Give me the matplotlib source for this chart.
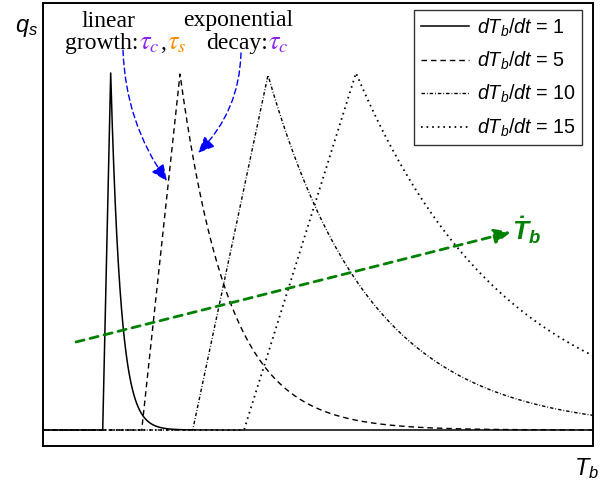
import numpy as np
import matplotlib
matplotlib.use("Agg")
import matplotlib.pyplot as plt
from matplotlib.offsetbox import TextArea, HPacker, AnnotationBbox

plt.rcParams["font.family"] = ["Liberation Sans", "DejaVu Sans"]
plt.rcParams["mathtext.fontset"] = "custom"
plt.rcParams["mathtext.it"] = "Liberation Sans:italic"
plt.rcParams["mathtext.rm"] = "Liberation Sans"
plt.rcParams["mathtext.bf"] = "Liberation Sans:bold"
plt.rcParams["mathtext.bfit"] = "Liberation Sans:italic:bold"

# heating rates and pulse shape parameters (T_b in arbitrary units, q_s normalised)
rates = [1, 5, 10, 15]
onset_T = [11.94, 19.74, 29.94, 40.2]      # start of linear growth
peak_T = [13.54, 27.4, 45.0, 62.6]         # end of growth / start of decay
peak_q = [1.0, 0.997, 0.994, 1.0]
decay_len = [2.0, 9.8, 20.4, 30.2]         # e-folding width of the decay in T_b
styles = ["-", (0, (4, 2.8)), (0, (2.5, 1.4, 0.6, 1.4)), (0, (0.9, 2.2))]
widths = [1.1, 1.0, 1.0, 1.3]
labels = [r"$dT_b/dt$ = %d" % r for r in rates]

T_min, T_max = 0.0, 110.0

fig = plt.figure(figsize=(6.0, 4.86), dpi=100)
ax = fig.add_axes([43 / 600, 1 - 446 / 486, 550 / 600, 443 / 486])

for t0, tp, qp, L, ls, lw, lab in zip(onset_T, peak_T, peak_q, decay_len, styles,
                                      widths, labels):
    T = np.sort(np.concatenate([np.linspace(T_min, T_max, 5000), [t0, tp]]))
    q = np.where(T < t0, 0.0,
                 np.where(T <= tp, qp * (T - t0) / (tp - t0),
                          qp * np.exp(-(T - tp) / L)))
    ax.plot(T, q, color="black", lw=lw, linestyle=ls, label=lab)

ax.set_xlim(T_min, T_max)
ax.set_ylim(-0.0448, 1.196)
ax.set_xticks([])
ax.set_yticks([])
for sp in ax.spines.values():
    sp.set_linewidth(1.4)

leg = ax.legend(loc="upper right", bbox_to_anchor=(0.98, 0.984), borderaxespad=0,
                fontsize=14.2, handlelength=2.45, handletextpad=0.4,
                labelspacing=0.56, fancybox=False, framealpha=1,
                edgecolor="#333333", borderpad=0.32)
leg.get_frame().set_linewidth(1.0)

# axis labels
fig.text(15 / 600, 1 - 32 / 486, r"$q_s$", fontsize=17, ha="left", va="baseline")
fig.text(574 / 600, 1 - 475 / 486, r"$T_b$", fontsize=17, ha="left", va="baseline")

# heating-rate trend arrow
green = "#008000"
ax.annotate("", xy=(93.6, 0.5546), xytext=(6.6, 0.2465),
            arrowprops=dict(arrowstyle="-|>,head_length=0.5,head_width=0.22",
                            color=green, lw=2.0, linestyle=(0, (3, 2.2)),
                            mutation_scale=20, shrinkA=0, shrinkB=0))
ax.text(93.8, 0.532, r"$\mathbfit{\dot{T}_b}$", color=green, fontsize=19,
        ha="left", va="baseline")

# growth / decay annotations
serif = dict(family="Liberation Serif", fontsize=17, math_fontfamily="stix")
greek = dict(family="Liberation Serif", fontsize=19, math_fontfamily="stix",
             fontweight="bold")
purple = "#8c22f0"
orange = "#ff8c00"
fig.text(108 / 600, 1 - 27 / 486, "linear", ha="center", va="baseline", **serif)
fig.text(238.5 / 600, 1 - 26 / 486, "exponential", ha="center", va="baseline", **serif)


def colored_line(parts, x_px, y_px):
    boxes = []
    for s, c in parts:
        props = greek if s.startswith("$") else serif
        boxes.append(TextArea(s, textprops=dict(color=c, **props)))
    pack = HPacker(children=boxes, align="baseline", pad=0, sep=0.5)
    ab = AnnotationBbox(pack, (x_px / 600, 1 - y_px / 486), xycoords="figure fraction",
                        box_alignment=(0, 0), frameon=False, pad=0)
    fig.add_artist(ab)


colored_line([("growth:", "black"), (r"$\tau_c$", purple), (",", "black"),
              (r"$\tau_s$", orange)], 65, 55)
colored_line([("decay:", "black"), (r"$\tau_c$", purple)], 206, 55)

blue_props = dict(arrowstyle="-|>,head_length=0.5,head_width=0.22", color="blue",
                  lw=1.0, linestyle=(0, (4, 2.5)), mutation_scale=20,
                  shrinkA=0, shrinkB=0)
ax.annotate("", xy=(24.8, 0.697), xytext=(16.0, 1.064),
            arrowprops=dict(connectionstyle="arc3,rad=0.15", **blue_props))
ax.annotate("", xy=(31.0, 0.776), xytext=(39.6, 1.056),
            arrowprops=dict(connectionstyle="arc3,rad=-0.2", **blue_props))

fig.savefig("out.png", dpi=100)
